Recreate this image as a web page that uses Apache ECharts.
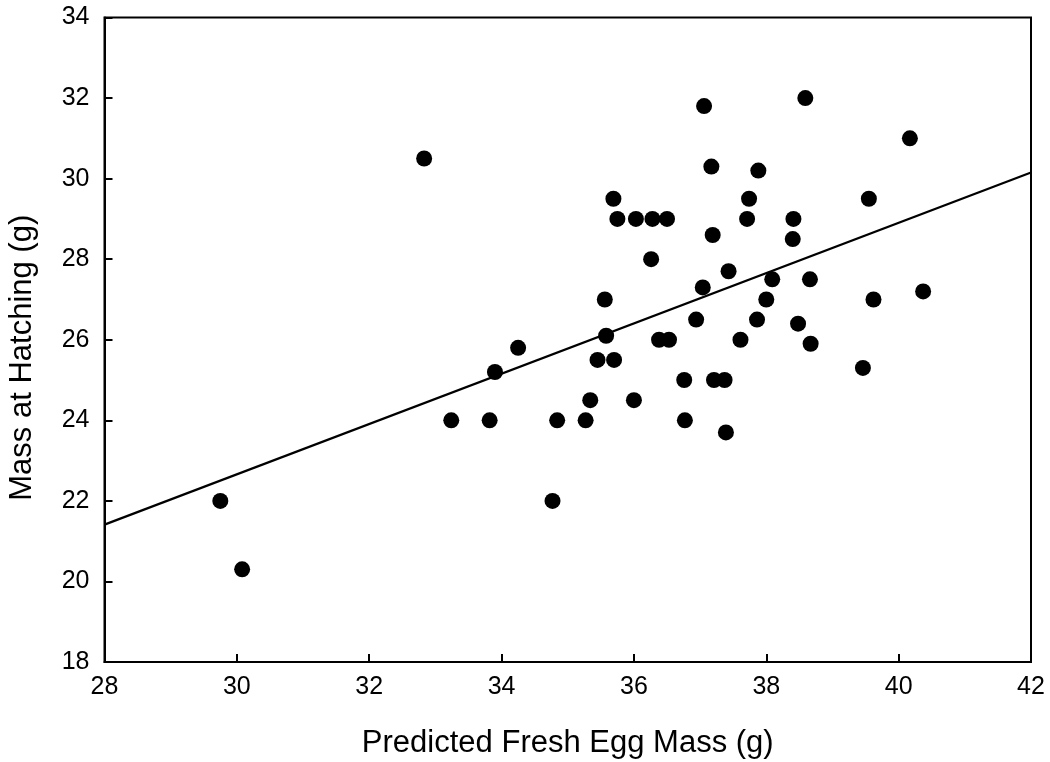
<!DOCTYPE html>
<html>
<head>
<meta charset="utf-8">
<script src="https://cdn.jsdelivr.net/npm/echarts@6/dist/echarts.min.js"></script>
<style>
html,body{margin:0;padding:0;background:#fff;}
#chart{width:1050px;height:762px;}
</style>
</head>
<body>
<div id="chart"></div>
<script>
// Predicted fresh egg mass (g)
var eggMass = [29.75, 30.08, 32.83, 33.24, 33.82, 33.90, 34.25, 34.77, 34.84, 35.27,
  35.34, 35.45, 35.56, 35.58, 35.69, 35.70, 35.75, 36.00, 36.03, 36.26,
  36.28, 36.38, 36.50, 36.53, 36.76, 36.77, 36.94, 37.04, 37.06, 37.17,
  37.19, 37.21, 37.37, 37.39, 37.43, 37.61, 37.71, 37.74, 37.86, 37.88,
  38.00, 38.09, 38.40, 38.41, 38.48, 38.59, 38.66, 38.67, 39.46, 39.55,
  39.62, 40.17, 40.37];
// Mass at hatching (g)
var hatchMass = [22.0, 20.3, 30.5, 24.0, 24.0, 25.2, 25.8, 22.0, 24.0, 24.0,
  24.5, 25.5, 27.0, 26.1, 29.5, 25.5, 29.0, 24.5, 29.0, 28.0,
  29.0, 26.0, 29.0, 26.0, 25.0, 24.0, 26.5, 27.3, 31.8, 30.3,
  28.6, 25.0, 25.0, 23.7, 27.7, 26.0, 29.0, 29.5, 26.5, 30.2,
  27.0, 27.5, 28.5, 29.0, 26.4, 32.0, 27.5, 25.9, 25.3, 29.5,
  27.0, 31.0, 27.2];
// Regression line end points
var fitX = [28, 42];
var fitY = [21.41, 30.15];

var xTitle = 'Predicted Fresh Egg Mass (g)';
var yTitle = 'Mass at Hatching (g)';

var pts = eggMass.map(function (x, i) { return [x, hatchMass[i]]; });
var fit = fitX.map(function (x, i) { return [x, fitY[i]]; });

var chart = echarts.init(document.getElementById('chart'), null, {renderer: 'canvas'});
var font = 'Liberation Sans, Arial, Helvetica, sans-serif';
chart.setOption({
  animation: false,
  backgroundColor: '#ffffff',
  grid: {
    left: 104.5, right: 19, top: 17.5, bottom: 100,
    containLabel: false, outerBoundsMode: 'none',
    show: true, borderColor: '#000', borderWidth: 2, backgroundColor: 'transparent'
  },
  xAxis: {
    type: 'value', min: 28, max: 42, interval: 2,
    name: xTitle, nameLocation: 'middle', nameGap: 66,
    nameTextStyle: {fontFamily: font, fontSize: 31, color: '#000'},
    axisLine: {show: true, onZero: false, lineStyle: {color: '#000', width: 2}},
    axisTick: {show: true, inside: true, length: 8, lineStyle: {color: '#000', width: 2}},
    axisLabel: {fontFamily: font, fontSize: 25, color: '#000', margin: 13},
    splitLine: {show: false}
  },
  yAxis: {
    type: 'value', min: 18, max: 34, interval: 2,
    name: yTitle, nameLocation: 'middle', nameGap: 67, nameRotate: 90,
    nameTextStyle: {fontFamily: font, fontSize: 31, color: '#000', padding: [0, 36, 0, 0]},
    axisLine: {show: true, onZero: false, lineStyle: {color: '#000', width: 2}},
    axisTick: {show: true, inside: true, length: 8, lineStyle: {color: '#000', width: 2}},
    axisLabel: {fontFamily: font, fontSize: 25, color: '#000', margin: 15},
    splitLine: {show: false}
  },
  series: [
    {
      type: 'line', data: fit, showSymbol: false, symbol: 'none',
      lineStyle: {color: '#000', width: 2.2}, z: 2, silent: true
    },
    {
      type: 'scatter', data: pts, symbol: 'circle', symbolSize: 16,
      itemStyle: {color: '#000', opacity: 1}, z: 3
    }
  ]
});
</script>
</body>
</html>
